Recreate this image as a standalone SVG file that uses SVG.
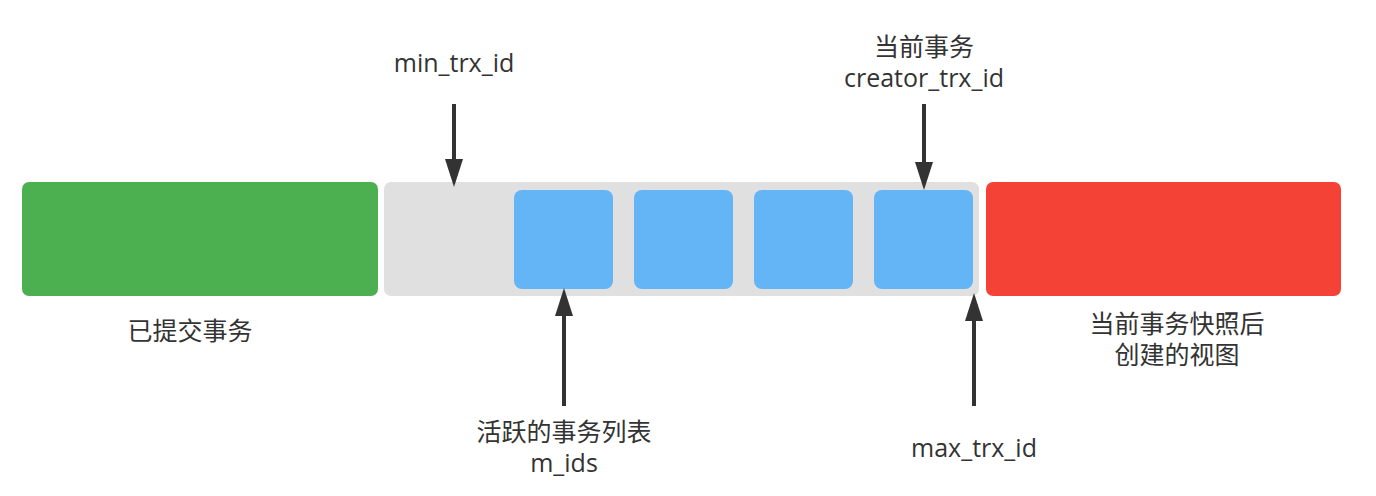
<svg xmlns="http://www.w3.org/2000/svg" width="1376" height="496" viewBox="0 0 1376 496">
<style>
text{font-family:"Open Sans","Noto Sans CJK SC",sans-serif;font-size:25px;fill:#333333;text-anchor:middle}
.conn{stroke:#333333;stroke-width:4;fill:none}
</style>
<defs>
<marker id="ah" markerUnits="userSpaceOnUse" markerWidth="28" markerHeight="18" refX="18" refY="9" orient="auto">
<path d="M0,0 L28,9 L0,18 z" fill="#333333"/>
</marker>
</defs>
<rect width="1376" height="496" fill="#ffffff"/>
<g id="committed">
<rect x="22" y="182" width="356" height="114" rx="7" fill="#4CAF50"/>
<text x="190" y="340">已提交事务</text>
</g>
<g id="active-range">
<rect x="384" y="182" width="595" height="114" rx="7" fill="#E0E0E0"/>
</g>
<g id="trx1"><rect x="514" y="190" width="99" height="99" rx="8" fill="#64B5F6"/></g>
<g id="trx2"><rect x="634" y="190" width="99" height="99" rx="8" fill="#64B5F6"/></g>
<g id="trx3"><rect x="754" y="190" width="99" height="99" rx="8" fill="#64B5F6"/></g>
<g id="trx4"><rect x="874" y="190" width="99" height="99" rx="8" fill="#64B5F6"/></g>
<g id="future">
<rect x="986" y="182" width="355" height="114" rx="7" fill="#F44336"/>
<text x="1177" y="333">当前事务快照后</text>
<text x="1177" y="364">创建的视图</text>
</g>
<g id="label-min"><text x="454" y="72">min_trx_id</text></g>
<g id="label-creator">
<text x="924" y="56">当前事务</text>
<text x="924" y="87">creator_trx_id</text>
</g>
<g id="label-mids">
<text x="564" y="441">活跃的事务列表</text>
<text x="564" y="472">m_ids</text>
</g>
<g id="label-max"><text x="974" y="457">max_trx_id</text></g>
<g id="connectors">
<line class="conn" x1="454" y1="104" x2="454" y2="177" marker-end="url(#ah)"/>
<line class="conn" x1="924" y1="104" x2="924" y2="180" marker-end="url(#ah)"/>
<line class="conn" x1="564" y1="406" x2="564" y2="298" marker-end="url(#ah)"/>
<line class="conn" x1="974" y1="406" x2="974" y2="303" marker-end="url(#ah)"/>
</g>
</svg>
